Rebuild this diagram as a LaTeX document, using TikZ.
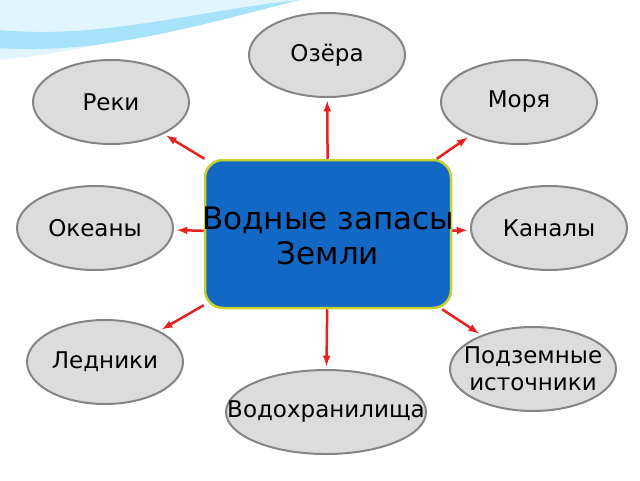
\documentclass[tikz,border=0pt]{standalone}
\usepackage{fontspec}
\setmainfont{DejaVu Sans}
\usetikzlibrary{shapes.geometric}
\definecolor{boxblue}{HTML}{1268C4}
\definecolor{boxrim}{HTML}{C8D030}
\definecolor{ovalgray}{HTML}{DCDCDC}
\definecolor{rimgray}{HTML}{858585}
\definecolor{arrowred}{HTML}{E82020}
\tikzset{
  water/.style={draw=rimgray, line width=2pt, fill=ovalgray, ellipse, minimum width=156pt, minimum height=84pt, inner sep=0pt, font=\fontsize{23}{27}\selectfont, align=center},
  wide text/.style={font=\fontsize{23}{27}\selectfont, align=center},
  link/.style={draw=arrowred, line width=2.5pt, -latex, shorten >=3pt}
}
\begin{document}
\begin{tikzpicture}[x=1pt,y=-1pt]
\useasboundingbox (0,0) rectangle (640,480);
\fill[cyan!12] (0,0) -- (300,0) .. controls (200,20) and (100,50) .. (0,60) -- cycle;
\fill[cyan!35] (0,30) .. controls (100,40) and (200,10) .. (300,0) .. controls (200,25) and (100,55) .. (0,48) -- cycle;

\node[draw=boxrim, line width=2.5pt, fill=boxblue, rounded corners=18pt, minimum width=246pt, minimum height=148pt] (box) at (328,234) {};
\node[font=\fontsize{31}{35}\selectfont, align=center] (boxtext) at (328,236) {Водные запасы\\Земли};

\node[water] (ozera) at (327,55) {Озёра};
\node[water] (reki) at (111,102) {Реки};
\node[water] (morya) at (519,102) {Моря};
\node[water] (okeany) at (95,228) {Океаны};
\node[water] (kanaly) at (549,228) {Каналы};
\node[water] (ledniki) at (105,362) {Ледники};
\node[water, minimum width=166pt] (podzem) at (533,369) {};
\node[wide text] (podzemtext) at (podzem) {Подземные\\источники};
\node[water, minimum width=200pt] (vodohr) at (326,412) {};
\node[wide text] (vodohrtext) at (vodohr) {Водохранилища};

\draw[link] (box) -- (ozera);
\draw[link] (box) -- (reki);
\draw[link] (box) -- (morya);
\draw[link] (box) -- (okeany);
\draw[link] (box) -- (kanaly);
\draw[link] (box) -- (ledniki);
\draw[link] (box) -- (podzem);
\draw[link] (box) -- (vodohr);
\end{tikzpicture}
\end{document}
